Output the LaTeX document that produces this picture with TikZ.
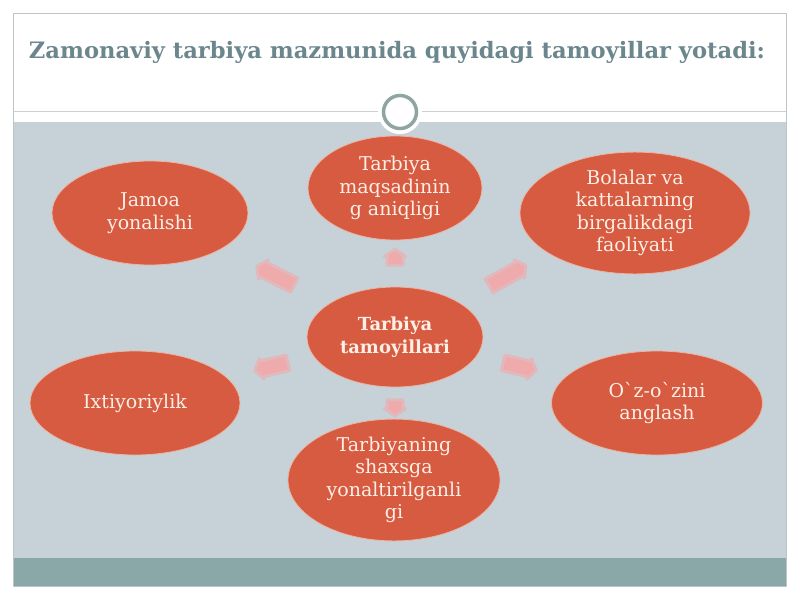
\documentclass[tikz,border=0pt]{standalone}
\usepackage{fontspec}
\setmainfont{DejaVu Serif}
\usetikzlibrary{shapes.geometric,shapes.arrows}
\definecolor{bandgray}{HTML}{C6D2D8}
\definecolor{darkband}{HTML}{8AA8A8}
\definecolor{framegray}{HTML}{BDC5C8}
\definecolor{titlecol}{HTML}{6B878D}
\definecolor{ellfill}{HTML}{D65B41}
\definecolor{ellline}{HTML}{EDB4A3}
\definecolor{txtcol}{HTML}{FDEFE6}
\definecolor{arrowpink}{HTML}{EFAAAC}
\definecolor{ringcol}{HTML}{8EA5A2}
\tikzset{
  ell/.style={ellipse, fill=ellfill, draw=ellline, line width=0.8pt, inner sep=0pt,
    align=center, text=txtcol, font=\fontsize{19}{22.5}\selectfont},
  radarrow/.style={single arrow, fill=arrowpink, draw=arrowpink!65!bandgray, line width=3pt,
    line join=round, inner xsep=0pt, inner ysep=6.5pt, single arrow head extend=2.5pt,
    single arrow head indent=0pt, single arrow tip angle=110}
}
\begin{document}
\begin{tikzpicture}[x=1pt,y=-1pt]
\useasboundingbox (0,0) rectangle (800,600);
\fill[white] (0,0) rectangle (800,600);
% slide frame
\fill[bandgray] (13,122) rectangle (786,558);
\fill[darkband] (13,558) rectangle (786,586);
\draw[framegray, line width=0.8pt] (13,13) rectangle (786,586);
\draw[framegray!80, line width=0.8pt] (13,111) -- (786,111);
% title
\node[anchor=base, text=titlecol, font=\bfseries\fontsize{22.6}{27}\selectfont] (title) at (397,58) {Zamonaviy tarbiya mazmunida quyidagi tamoyillar yotadi:};
% arrows
\node[radarrow, minimum height=42pt, rotate=153] (aul) at (278,277) {};
\node[radarrow, minimum height=42pt, rotate=29] (aur) at (505,277) {};
\node[radarrow, minimum height=34pt, rotate=193] (al) at (274,366) {};
\node[radarrow, minimum height=34pt, rotate=347] (ar) at (517,366) {};
\node[radarrow, minimum height=16pt, rotate=90] (au) at (395,260) {};
\node[radarrow, minimum height=16pt, rotate=270] (ad) at (395,405) {};
% ellipses
\node[ell, minimum width=176pt, minimum height=100pt, font=\bfseries\fontsize{18}{23}\selectfont] (center) at (395,337) {Tarbiya\\tamoyillari};
\node[ell, minimum width=174pt, minimum height=104pt] (top) at (395,188) {Tarbiya\\maqsadinin\\g aniqligi};
\node[ell, minimum width=196pt, minimum height=104pt] (tl) at (150,213) {Jamoa\\yonalishi};
\node[ell, minimum width=230pt, minimum height=106pt] (tr) at (635,213) {Bolalar va\\kattalarning\\birgalikdagi\\faoliyati};
\node[ell, minimum width=210pt, minimum height=104pt] (bl) at (135,403) {Ixtiyoriylik};
\node[ell, minimum width=211pt, minimum height=104pt] (br) at (657,403) {Oˋz-oˋzini\\anglash};
\node[ell, minimum width=212pt, minimum height=105pt] (bot) at (394,480) {Tarbiyaning\\shaxsga\\yonaltirilganli\\gi};
% ring ornament
\fill[white] (400,112) circle (22);
\draw[ringcol, line width=3.5pt, fill=white] (400,112) circle (16.5);
\end{tikzpicture}
\end{document}
